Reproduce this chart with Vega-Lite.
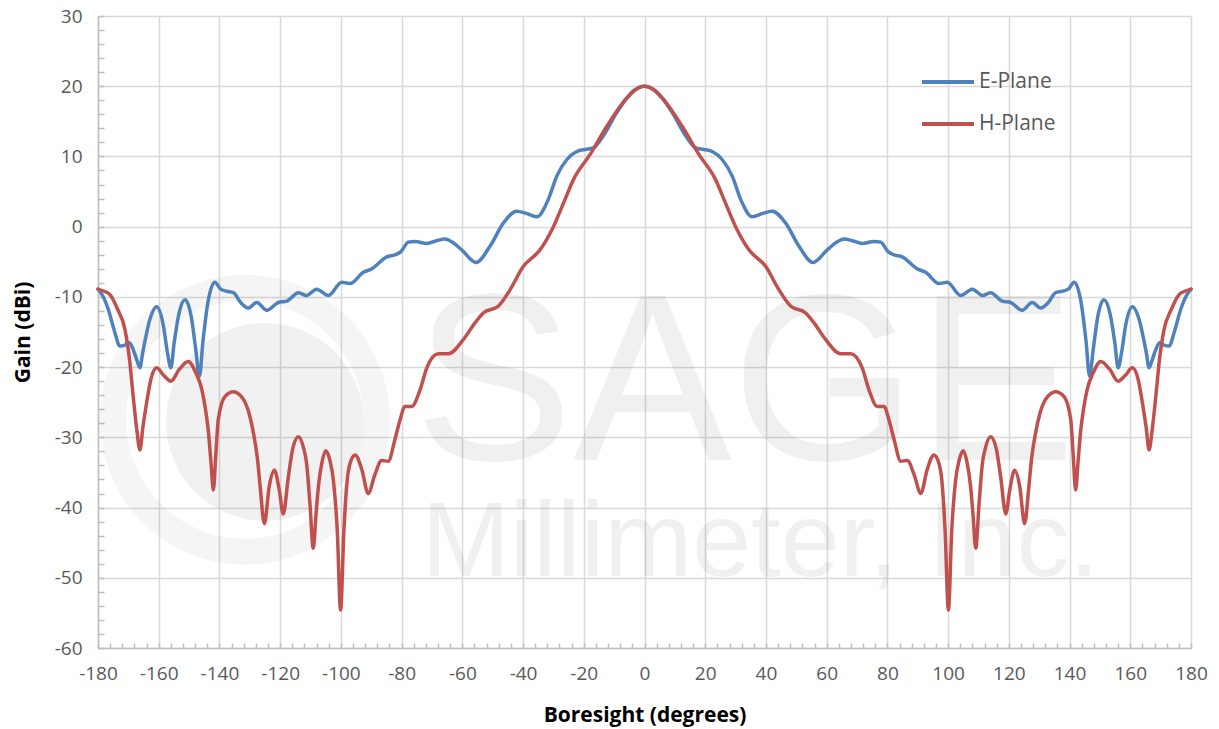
{
  "$schema": "https://vega.github.io/schema/vega-lite/v6.json",
  "width": 1093,
  "height": 632,
  "autosize": "none",
  "padding": {"left": 98, "top": 16, "right": 28, "bottom": 81},
  "background": "#ffffff",
  "config": {"view": {"stroke": null}, "font": "Open Sans"},
  "resolve": {"axis": {"x": "independent", "y": "independent"}},
  "layer": [
    {
      "data": {"values": [{"name": "ring"}]},
      "mark": {"type": "point", "shape": "circle", "filled": false, "stroke": "#000000", "strokeOpacity": 0.055, "strokeWidth": 26, "size": 69696},
      "encoding": {"x": {"datum": -131.6, "type": "quantitative", "axis": null}, "y": {"datum": -27.5, "type": "quantitative", "axis": null}}
    },
    {
      "data": {"values": [{"name": "disk"}]},
      "mark": {"type": "point", "shape": "circle", "filled": true, "fill": "#000000", "opacity": 0.055, "size": 39204},
      "encoding": {"x": {"datum": -125.0, "type": "quantitative", "axis": null}, "y": {"datum": -27.8, "type": "quantitative", "axis": null}}
    },
    {
      "data": {"values": [{"label": "SAGE"}]},
      "mark": {"type": "text", "font": "Liberation Sans", "fontSize": 238, "align": "center", "baseline": "alphabetic", "fill": "#000000", "opacity": 0.055},
      "encoding": {"x": {"datum": 33.1, "type": "quantitative", "axis": null}, "y": {"datum": -33.2, "type": "quantitative", "axis": null}, "text": {"field": "label"}}
    },
    {
      "data": {"values": [{"label": "Millimeter, Inc."}]},
      "mark": {"type": "text", "font": "Liberation Sans", "fontSize": 106, "align": "center", "baseline": "alphabetic", "fill": "#000000", "opacity": 0.055},
      "encoding": {"x": {"datum": 38.1, "type": "quantitative", "axis": null}, "y": {"datum": -49.7, "type": "quantitative", "axis": null}, "text": {"field": "label"}}
    },
    {
      "data": {"values": [
        {"angle": -180, "gain": -8.9, "plane": "E-Plane"},
        {"angle": -178.5, "gain": -9.8, "plane": "E-Plane"},
        {"angle": -176.6, "gain": -11.8, "plane": "E-Plane"},
        {"angle": -174.5, "gain": -15.0, "plane": "E-Plane"},
        {"angle": -172.8, "gain": -17.0, "plane": "E-Plane"},
        {"angle": -171.3, "gain": -16.9, "plane": "E-Plane"},
        {"angle": -169.8, "gain": -16.5, "plane": "E-Plane"},
        {"angle": -168.5, "gain": -17.4, "plane": "E-Plane"},
        {"angle": -167.2, "gain": -19.0, "plane": "E-Plane"},
        {"angle": -166.2, "gain": -20.1, "plane": "E-Plane"},
        {"angle": -165.3, "gain": -18.0, "plane": "E-Plane"},
        {"angle": -164.3, "gain": -15.8, "plane": "E-Plane"},
        {"angle": -162.9, "gain": -13.2, "plane": "E-Plane"},
        {"angle": -160.7, "gain": -11.4, "plane": "E-Plane"},
        {"angle": -158.5, "gain": -14.0, "plane": "E-Plane"},
        {"angle": -157.1, "gain": -18.0, "plane": "E-Plane"},
        {"angle": -156.0, "gain": -20.1, "plane": "E-Plane"},
        {"angle": -154.9, "gain": -16.5, "plane": "E-Plane"},
        {"angle": -153.3, "gain": -12.3, "plane": "E-Plane"},
        {"angle": -151.3, "gain": -10.4, "plane": "E-Plane"},
        {"angle": -149.3, "gain": -12.8, "plane": "E-Plane"},
        {"angle": -147.8, "gain": -17.5, "plane": "E-Plane"},
        {"angle": -146.6, "gain": -21.3, "plane": "E-Plane"},
        {"angle": -145.4, "gain": -16.2, "plane": "E-Plane"},
        {"angle": -143.8, "gain": -10.8, "plane": "E-Plane"},
        {"angle": -141.5, "gain": -7.9, "plane": "E-Plane"},
        {"angle": -139.6, "gain": -8.9, "plane": "E-Plane"},
        {"angle": -137.6, "gain": -9.2, "plane": "E-Plane"},
        {"angle": -135.4, "gain": -9.4, "plane": "E-Plane"},
        {"angle": -133.0, "gain": -10.8, "plane": "E-Plane"},
        {"angle": -130.5, "gain": -11.6, "plane": "E-Plane"},
        {"angle": -127.7, "gain": -10.8, "plane": "E-Plane"},
        {"angle": -124.4, "gain": -11.9, "plane": "E-Plane"},
        {"angle": -120.6, "gain": -10.8, "plane": "E-Plane"},
        {"angle": -117.8, "gain": -10.6, "plane": "E-Plane"},
        {"angle": -114.0, "gain": -9.4, "plane": "E-Plane"},
        {"angle": -111.3, "gain": -9.8, "plane": "E-Plane"},
        {"angle": -108.0, "gain": -8.9, "plane": "E-Plane"},
        {"angle": -104.1, "gain": -9.8, "plane": "E-Plane"},
        {"angle": -99.7, "gain": -7.9, "plane": "E-Plane"},
        {"angle": -97.0, "gain": -8.1, "plane": "E-Plane"},
        {"angle": -92.6, "gain": -6.5, "plane": "E-Plane"},
        {"angle": -89.8, "gain": -6.0, "plane": "E-Plane"},
        {"angle": -84.9, "gain": -4.3, "plane": "E-Plane"},
        {"angle": -82.2, "gain": -4.0, "plane": "E-Plane"},
        {"angle": -80.3, "gain": -3.6, "plane": "E-Plane"},
        {"angle": -77.8, "gain": -2.2, "plane": "E-Plane"},
        {"angle": -75.5, "gain": -2.1, "plane": "E-Plane"},
        {"angle": -71.7, "gain": -2.4, "plane": "E-Plane"},
        {"angle": -68.5, "gain": -2.0, "plane": "E-Plane"},
        {"angle": -65.7, "gain": -1.75, "plane": "E-Plane"},
        {"angle": -63.0, "gain": -2.3, "plane": "E-Plane"},
        {"angle": -60.2, "gain": -3.3, "plane": "E-Plane"},
        {"angle": -55.5, "gain": -5.1, "plane": "E-Plane"},
        {"angle": -50.9, "gain": -2.8, "plane": "E-Plane"},
        {"angle": -46.5, "gain": 0.5, "plane": "E-Plane"},
        {"angle": -42.1, "gain": 2.2, "plane": "E-Plane"},
        {"angle": -39.0, "gain": 1.9, "plane": "E-Plane"},
        {"angle": -35.5, "gain": 1.4, "plane": "E-Plane"},
        {"angle": -31.7, "gain": 3.85, "plane": "E-Plane"},
        {"angle": -28.9, "gain": 7.2, "plane": "E-Plane"},
        {"angle": -25.5, "gain": 9.6, "plane": "E-Plane"},
        {"angle": -22.3, "gain": 10.7, "plane": "E-Plane"},
        {"angle": -19.5, "gain": 11.0, "plane": "E-Plane"},
        {"angle": -16.9, "gain": 11.2, "plane": "E-Plane"},
        {"angle": -13.6, "gain": 12.9, "plane": "E-Plane"},
        {"angle": -9.2, "gain": 16.2, "plane": "E-Plane"},
        {"angle": -6.0, "gain": 18.2, "plane": "E-Plane"},
        {"angle": -3.7, "gain": 19.3, "plane": "E-Plane"},
        {"angle": 0, "gain": 20.0, "plane": "E-Plane"},
        {"angle": 3.7, "gain": 19.3, "plane": "E-Plane"},
        {"angle": 6.0, "gain": 18.2, "plane": "E-Plane"},
        {"angle": 9.2, "gain": 16.2, "plane": "E-Plane"},
        {"angle": 13.6, "gain": 12.9, "plane": "E-Plane"},
        {"angle": 16.9, "gain": 11.2, "plane": "E-Plane"},
        {"angle": 19.5, "gain": 11.0, "plane": "E-Plane"},
        {"angle": 22.3, "gain": 10.7, "plane": "E-Plane"},
        {"angle": 25.5, "gain": 9.6, "plane": "E-Plane"},
        {"angle": 28.9, "gain": 7.2, "plane": "E-Plane"},
        {"angle": 31.7, "gain": 3.85, "plane": "E-Plane"},
        {"angle": 35.5, "gain": 1.4, "plane": "E-Plane"},
        {"angle": 39.0, "gain": 1.9, "plane": "E-Plane"},
        {"angle": 42.1, "gain": 2.2, "plane": "E-Plane"},
        {"angle": 46.5, "gain": 0.5, "plane": "E-Plane"},
        {"angle": 50.9, "gain": -2.8, "plane": "E-Plane"},
        {"angle": 55.5, "gain": -5.1, "plane": "E-Plane"},
        {"angle": 60.2, "gain": -3.3, "plane": "E-Plane"},
        {"angle": 63.0, "gain": -2.3, "plane": "E-Plane"},
        {"angle": 65.7, "gain": -1.75, "plane": "E-Plane"},
        {"angle": 68.5, "gain": -2.0, "plane": "E-Plane"},
        {"angle": 71.7, "gain": -2.4, "plane": "E-Plane"},
        {"angle": 75.5, "gain": -2.1, "plane": "E-Plane"},
        {"angle": 77.8, "gain": -2.2, "plane": "E-Plane"},
        {"angle": 80.3, "gain": -3.6, "plane": "E-Plane"},
        {"angle": 82.2, "gain": -4.0, "plane": "E-Plane"},
        {"angle": 84.9, "gain": -4.3, "plane": "E-Plane"},
        {"angle": 89.8, "gain": -6.0, "plane": "E-Plane"},
        {"angle": 92.6, "gain": -6.5, "plane": "E-Plane"},
        {"angle": 97.0, "gain": -8.1, "plane": "E-Plane"},
        {"angle": 99.7, "gain": -7.9, "plane": "E-Plane"},
        {"angle": 104.1, "gain": -9.8, "plane": "E-Plane"},
        {"angle": 108.0, "gain": -8.9, "plane": "E-Plane"},
        {"angle": 111.3, "gain": -9.8, "plane": "E-Plane"},
        {"angle": 114.0, "gain": -9.4, "plane": "E-Plane"},
        {"angle": 117.8, "gain": -10.6, "plane": "E-Plane"},
        {"angle": 120.6, "gain": -10.8, "plane": "E-Plane"},
        {"angle": 124.4, "gain": -11.9, "plane": "E-Plane"},
        {"angle": 127.7, "gain": -10.8, "plane": "E-Plane"},
        {"angle": 130.5, "gain": -11.6, "plane": "E-Plane"},
        {"angle": 133.0, "gain": -10.8, "plane": "E-Plane"},
        {"angle": 135.4, "gain": -9.4, "plane": "E-Plane"},
        {"angle": 137.6, "gain": -9.2, "plane": "E-Plane"},
        {"angle": 139.6, "gain": -8.9, "plane": "E-Plane"},
        {"angle": 141.5, "gain": -7.9, "plane": "E-Plane"},
        {"angle": 143.8, "gain": -10.8, "plane": "E-Plane"},
        {"angle": 145.4, "gain": -16.2, "plane": "E-Plane"},
        {"angle": 146.6, "gain": -21.3, "plane": "E-Plane"},
        {"angle": 147.8, "gain": -17.5, "plane": "E-Plane"},
        {"angle": 149.3, "gain": -12.8, "plane": "E-Plane"},
        {"angle": 151.3, "gain": -10.4, "plane": "E-Plane"},
        {"angle": 153.3, "gain": -12.3, "plane": "E-Plane"},
        {"angle": 154.9, "gain": -16.5, "plane": "E-Plane"},
        {"angle": 156.0, "gain": -20.1, "plane": "E-Plane"},
        {"angle": 157.1, "gain": -18.0, "plane": "E-Plane"},
        {"angle": 158.5, "gain": -14.0, "plane": "E-Plane"},
        {"angle": 160.7, "gain": -11.4, "plane": "E-Plane"},
        {"angle": 162.9, "gain": -13.2, "plane": "E-Plane"},
        {"angle": 164.3, "gain": -15.8, "plane": "E-Plane"},
        {"angle": 165.3, "gain": -18.0, "plane": "E-Plane"},
        {"angle": 166.2, "gain": -20.1, "plane": "E-Plane"},
        {"angle": 167.2, "gain": -19.0, "plane": "E-Plane"},
        {"angle": 168.5, "gain": -17.4, "plane": "E-Plane"},
        {"angle": 169.8, "gain": -16.5, "plane": "E-Plane"},
        {"angle": 171.3, "gain": -16.9, "plane": "E-Plane"},
        {"angle": 172.8, "gain": -17.0, "plane": "E-Plane"},
        {"angle": 174.5, "gain": -15.0, "plane": "E-Plane"},
        {"angle": 176.6, "gain": -11.8, "plane": "E-Plane"},
        {"angle": 178.5, "gain": -9.8, "plane": "E-Plane"},
        {"angle": 180, "gain": -8.9, "plane": "E-Plane"},
        {"angle": -180, "gain": -8.9, "plane": "H-Plane"},
        {"angle": -178, "gain": -9.2, "plane": "H-Plane"},
        {"angle": -176, "gain": -9.7, "plane": "H-Plane"},
        {"angle": -173.5, "gain": -11.8, "plane": "H-Plane"},
        {"angle": -171.1, "gain": -14.7, "plane": "H-Plane"},
        {"angle": -169.6, "gain": -19.0, "plane": "H-Plane"},
        {"angle": -168.4, "gain": -24.2, "plane": "H-Plane"},
        {"angle": -167.2, "gain": -29.0, "plane": "H-Plane"},
        {"angle": -166.2, "gain": -31.8, "plane": "H-Plane"},
        {"angle": -165.2, "gain": -28.5, "plane": "H-Plane"},
        {"angle": -164.0, "gain": -25.1, "plane": "H-Plane"},
        {"angle": -162.5, "gain": -21.6, "plane": "H-Plane"},
        {"angle": -160.7, "gain": -20.1, "plane": "H-Plane"},
        {"angle": -158.3, "gain": -21.2, "plane": "H-Plane"},
        {"angle": -156.0, "gain": -22.0, "plane": "H-Plane"},
        {"angle": -153.2, "gain": -20.3, "plane": "H-Plane"},
        {"angle": -150.3, "gain": -19.2, "plane": "H-Plane"},
        {"angle": -147.8, "gain": -20.8, "plane": "H-Plane"},
        {"angle": -145.8, "gain": -23.2, "plane": "H-Plane"},
        {"angle": -144.6, "gain": -26.0, "plane": "H-Plane"},
        {"angle": -143.7, "gain": -28.9, "plane": "H-Plane"},
        {"angle": -142.8, "gain": -33.5, "plane": "H-Plane"},
        {"angle": -142.0, "gain": -37.5, "plane": "H-Plane"},
        {"angle": -141.2, "gain": -32.5, "plane": "H-Plane"},
        {"angle": -140.4, "gain": -27.5, "plane": "H-Plane"},
        {"angle": -138.2, "gain": -24.2, "plane": "H-Plane"},
        {"angle": -135.4, "gain": -23.5, "plane": "H-Plane"},
        {"angle": -132.1, "gain": -24.6, "plane": "H-Plane"},
        {"angle": -130.3, "gain": -26.5, "plane": "H-Plane"},
        {"angle": -128.8, "gain": -29.4, "plane": "H-Plane"},
        {"angle": -127.5, "gain": -33.0, "plane": "H-Plane"},
        {"angle": -126.6, "gain": -37.0, "plane": "H-Plane"},
        {"angle": -125.2, "gain": -42.3, "plane": "H-Plane"},
        {"angle": -123.6, "gain": -37.0, "plane": "H-Plane"},
        {"angle": -121.9, "gain": -34.7, "plane": "H-Plane"},
        {"angle": -120.3, "gain": -37.5, "plane": "H-Plane"},
        {"angle": -119.0, "gain": -40.9, "plane": "H-Plane"},
        {"angle": -117.3, "gain": -35.6, "plane": "H-Plane"},
        {"angle": -115.8, "gain": -31.5, "plane": "H-Plane"},
        {"angle": -114.0, "gain": -29.9, "plane": "H-Plane"},
        {"angle": -112.3, "gain": -31.5, "plane": "H-Plane"},
        {"angle": -111.3, "gain": -33.7, "plane": "H-Plane"},
        {"angle": -110.2, "gain": -39.4, "plane": "H-Plane"},
        {"angle": -109.1, "gain": -45.8, "plane": "H-Plane"},
        {"angle": -108.2, "gain": -41.0, "plane": "H-Plane"},
        {"angle": -107.4, "gain": -37.0, "plane": "H-Plane"},
        {"angle": -106.2, "gain": -33.5, "plane": "H-Plane"},
        {"angle": -105.0, "gain": -31.9, "plane": "H-Plane"},
        {"angle": -103.6, "gain": -33.3, "plane": "H-Plane"},
        {"angle": -102.5, "gain": -36.0, "plane": "H-Plane"},
        {"angle": -101.2, "gain": -43.2, "plane": "H-Plane"},
        {"angle": -100.1, "gain": -54.6, "plane": "H-Plane"},
        {"angle": -99.0, "gain": -43.2, "plane": "H-Plane"},
        {"angle": -97.9, "gain": -36.0, "plane": "H-Plane"},
        {"angle": -96.6, "gain": -33.2, "plane": "H-Plane"},
        {"angle": -95.3, "gain": -32.5, "plane": "H-Plane"},
        {"angle": -93.1, "gain": -34.6, "plane": "H-Plane"},
        {"angle": -91.0, "gain": -38.0, "plane": "H-Plane"},
        {"angle": -88.8, "gain": -35.3, "plane": "H-Plane"},
        {"angle": -86.6, "gain": -33.3, "plane": "H-Plane"},
        {"angle": -84.4, "gain": -33.4, "plane": "H-Plane"},
        {"angle": -82.2, "gain": -30.3, "plane": "H-Plane"},
        {"angle": -80.5, "gain": -27.5, "plane": "H-Plane"},
        {"angle": -78.9, "gain": -25.6, "plane": "H-Plane"},
        {"angle": -76.7, "gain": -25.6, "plane": "H-Plane"},
        {"angle": -73.9, "gain": -23.2, "plane": "H-Plane"},
        {"angle": -71.7, "gain": -20.1, "plane": "H-Plane"},
        {"angle": -67.9, "gain": -18.1, "plane": "H-Plane"},
        {"angle": -64.6, "gain": -18.1, "plane": "H-Plane"},
        {"angle": -59.7, "gain": -16.1, "plane": "H-Plane"},
        {"angle": -56.0, "gain": -13.8, "plane": "H-Plane"},
        {"angle": -53.1, "gain": -12.3, "plane": "H-Plane"},
        {"angle": -48.1, "gain": -11.3, "plane": "H-Plane"},
        {"angle": -44.3, "gain": -9.0, "plane": "H-Plane"},
        {"angle": -39.9, "gain": -5.65, "plane": "H-Plane"},
        {"angle": -34.4, "gain": -3.3, "plane": "H-Plane"},
        {"angle": -30.0, "gain": 0.0, "plane": "H-Plane"},
        {"angle": -26.2, "gain": 3.85, "plane": "H-Plane"},
        {"angle": -23.4, "gain": 6.7, "plane": "H-Plane"},
        {"angle": -17.9, "gain": 10.3, "plane": "H-Plane"},
        {"angle": -12.4, "gain": 14.3, "plane": "H-Plane"},
        {"angle": -5.9, "gain": 18.3, "plane": "H-Plane"},
        {"angle": -3.0, "gain": 19.5, "plane": "H-Plane"},
        {"angle": 0, "gain": 20.0, "plane": "H-Plane"},
        {"angle": 3.0, "gain": 19.5, "plane": "H-Plane"},
        {"angle": 5.9, "gain": 18.3, "plane": "H-Plane"},
        {"angle": 12.4, "gain": 14.3, "plane": "H-Plane"},
        {"angle": 17.9, "gain": 10.3, "plane": "H-Plane"},
        {"angle": 23.4, "gain": 6.7, "plane": "H-Plane"},
        {"angle": 26.2, "gain": 3.85, "plane": "H-Plane"},
        {"angle": 30.0, "gain": 0.0, "plane": "H-Plane"},
        {"angle": 34.4, "gain": -3.3, "plane": "H-Plane"},
        {"angle": 39.9, "gain": -5.65, "plane": "H-Plane"},
        {"angle": 44.3, "gain": -9.0, "plane": "H-Plane"},
        {"angle": 48.1, "gain": -11.3, "plane": "H-Plane"},
        {"angle": 53.1, "gain": -12.3, "plane": "H-Plane"},
        {"angle": 56.0, "gain": -13.8, "plane": "H-Plane"},
        {"angle": 59.7, "gain": -16.1, "plane": "H-Plane"},
        {"angle": 64.6, "gain": -18.1, "plane": "H-Plane"},
        {"angle": 67.9, "gain": -18.1, "plane": "H-Plane"},
        {"angle": 71.7, "gain": -20.1, "plane": "H-Plane"},
        {"angle": 73.9, "gain": -23.2, "plane": "H-Plane"},
        {"angle": 76.7, "gain": -25.6, "plane": "H-Plane"},
        {"angle": 78.9, "gain": -25.6, "plane": "H-Plane"},
        {"angle": 80.5, "gain": -27.5, "plane": "H-Plane"},
        {"angle": 82.2, "gain": -30.3, "plane": "H-Plane"},
        {"angle": 84.4, "gain": -33.4, "plane": "H-Plane"},
        {"angle": 86.6, "gain": -33.3, "plane": "H-Plane"},
        {"angle": 88.8, "gain": -35.3, "plane": "H-Plane"},
        {"angle": 91.0, "gain": -38.0, "plane": "H-Plane"},
        {"angle": 93.1, "gain": -34.6, "plane": "H-Plane"},
        {"angle": 95.3, "gain": -32.5, "plane": "H-Plane"},
        {"angle": 96.6, "gain": -33.2, "plane": "H-Plane"},
        {"angle": 97.9, "gain": -36.0, "plane": "H-Plane"},
        {"angle": 99.0, "gain": -43.2, "plane": "H-Plane"},
        {"angle": 100.1, "gain": -54.6, "plane": "H-Plane"},
        {"angle": 101.2, "gain": -43.2, "plane": "H-Plane"},
        {"angle": 102.5, "gain": -36.0, "plane": "H-Plane"},
        {"angle": 103.6, "gain": -33.3, "plane": "H-Plane"},
        {"angle": 105.0, "gain": -31.9, "plane": "H-Plane"},
        {"angle": 106.2, "gain": -33.5, "plane": "H-Plane"},
        {"angle": 107.4, "gain": -37.0, "plane": "H-Plane"},
        {"angle": 108.2, "gain": -41.0, "plane": "H-Plane"},
        {"angle": 109.1, "gain": -45.8, "plane": "H-Plane"},
        {"angle": 110.2, "gain": -39.4, "plane": "H-Plane"},
        {"angle": 111.3, "gain": -33.7, "plane": "H-Plane"},
        {"angle": 112.3, "gain": -31.5, "plane": "H-Plane"},
        {"angle": 114.0, "gain": -29.9, "plane": "H-Plane"},
        {"angle": 115.8, "gain": -31.5, "plane": "H-Plane"},
        {"angle": 117.3, "gain": -35.6, "plane": "H-Plane"},
        {"angle": 119.0, "gain": -40.9, "plane": "H-Plane"},
        {"angle": 120.3, "gain": -37.5, "plane": "H-Plane"},
        {"angle": 121.9, "gain": -34.7, "plane": "H-Plane"},
        {"angle": 123.6, "gain": -37.0, "plane": "H-Plane"},
        {"angle": 125.2, "gain": -42.3, "plane": "H-Plane"},
        {"angle": 126.6, "gain": -37.0, "plane": "H-Plane"},
        {"angle": 127.5, "gain": -33.0, "plane": "H-Plane"},
        {"angle": 128.8, "gain": -29.4, "plane": "H-Plane"},
        {"angle": 130.3, "gain": -26.5, "plane": "H-Plane"},
        {"angle": 132.1, "gain": -24.6, "plane": "H-Plane"},
        {"angle": 135.4, "gain": -23.5, "plane": "H-Plane"},
        {"angle": 138.2, "gain": -24.2, "plane": "H-Plane"},
        {"angle": 140.4, "gain": -27.5, "plane": "H-Plane"},
        {"angle": 141.2, "gain": -32.5, "plane": "H-Plane"},
        {"angle": 142.0, "gain": -37.5, "plane": "H-Plane"},
        {"angle": 142.8, "gain": -33.5, "plane": "H-Plane"},
        {"angle": 143.7, "gain": -28.9, "plane": "H-Plane"},
        {"angle": 144.6, "gain": -26.0, "plane": "H-Plane"},
        {"angle": 145.8, "gain": -23.2, "plane": "H-Plane"},
        {"angle": 147.8, "gain": -20.8, "plane": "H-Plane"},
        {"angle": 150.3, "gain": -19.2, "plane": "H-Plane"},
        {"angle": 153.2, "gain": -20.3, "plane": "H-Plane"},
        {"angle": 156.0, "gain": -22.0, "plane": "H-Plane"},
        {"angle": 158.3, "gain": -21.2, "plane": "H-Plane"},
        {"angle": 160.7, "gain": -20.1, "plane": "H-Plane"},
        {"angle": 162.5, "gain": -21.6, "plane": "H-Plane"},
        {"angle": 164.0, "gain": -25.1, "plane": "H-Plane"},
        {"angle": 165.2, "gain": -28.5, "plane": "H-Plane"},
        {"angle": 166.2, "gain": -31.8, "plane": "H-Plane"},
        {"angle": 167.2, "gain": -29.0, "plane": "H-Plane"},
        {"angle": 168.4, "gain": -24.2, "plane": "H-Plane"},
        {"angle": 169.6, "gain": -19.0, "plane": "H-Plane"},
        {"angle": 171.1, "gain": -14.7, "plane": "H-Plane"},
        {"angle": 173.5, "gain": -11.8, "plane": "H-Plane"},
        {"angle": 176, "gain": -9.7, "plane": "H-Plane"},
        {"angle": 178, "gain": -9.2, "plane": "H-Plane"},
        {"angle": 180, "gain": -8.9, "plane": "H-Plane"}
      ]},
      "mark": {"type": "line", "interpolate": "monotone", "strokeWidth": 3.5, "strokeCap": "round", "strokeJoin": "round"},
      "encoding": {
        "x": {
          "field": "angle", "type": "quantitative", "title": "Boresight (degrees)",
          "scale": {"domain": [-180, 180], "nice": false, "zero": false},
          "axis": {
            "orient": "bottom",
            "title": "Boresight (degrees)",
            "values": [-180,-176,-172,-168,-164,-160,-156,-152,-148,-144,-140,-136,-132,-128,-124,-120,-116,-112,-108,-104,-100,-96,-92,-88,-84,-80,-76,-72,-68,-64,-60,-56,-52,-48,-44,-40,-36,-32,-28,-24,-20,-16,-12,-8,-4,0,4,8,12,16,20,24,28,32,36,40,44,48,52,56,60,64,68,72,76,80,84,88,92,96,100,104,108,112,116,120,124,128,132,136,140,144,148,152,156,160,164,168,172,176,180],
            "labelExpr": "datum.value % 20 === 0 ? toString(datum.value) : ''",
            "labelOverlap": false, "labelFlush": false, "labelBound": false,
            "labelFontSize": 19, "labelColor": "#595959", "labelPadding": 21,
            "grid": true, "gridColor": "#d9d9d9", "gridWidth": 1.5,
            "gridOpacity": {"condition": {"test": "datum.value % 20 === 0", "value": 1}, "value": 0},
            "domainColor": "#bfbfbf", "domainWidth": 1.5,
            "tickColor": "#bfbfbf", "tickWidth": 1.5, "tickSize": -5,
            "titleFontSize": 21, "titleFontWeight": "bold", "titleColor": "#000000", "titlePadding": 21
          }
        },
        "y": {
          "field": "gain", "type": "quantitative", "title": "Gain (dBi)",
          "scale": {"domain": [-60, 30], "nice": false, "zero": false},
          "axis": {
            "orient": "left",
            "title": "Gain (dBi)",
            "values": [-60,-58,-56,-54,-52,-50,-48,-46,-44,-42,-40,-38,-36,-34,-32,-30,-28,-26,-24,-22,-20,-18,-16,-14,-12,-10,-8,-6,-4,-2,0,2,4,6,8,10,12,14,16,18,20,22,24,26,28,30],
            "labelExpr": "datum.value % 10 === 0 ? toString(datum.value) : ''",
            "labelOverlap": false, "labelFlush": false, "labelBound": false,
            "labelFontSize": 19, "labelColor": "#595959", "labelPadding": 22,
            "grid": true, "gridColor": "#d9d9d9", "gridWidth": 1.5,
            "gridOpacity": {"condition": {"test": "datum.value % 10 === 0", "value": 1}, "value": 0},
            "domainColor": "#bfbfbf", "domainWidth": 1.5,
            "tickColor": "#bfbfbf", "tickWidth": 1.5, "tickSize": -6,
            "titleFontSize": 21, "titleFontWeight": "bold", "titleColor": "#000000", "titlePadding": 21
          }
        },
        "color": {
          "field": "plane", "type": "nominal",
          "scale": {"domain": ["E-Plane", "H-Plane"], "range": ["#4f81bd", "#c0504d"]},
          "legend": {
            "orient": "none", "legendX": 822, "legendY": 38, "title": null,
            "symbolType": "stroke", "symbolSize": 2700, "symbolStrokeWidth": 4,
            "labelFontSize": 21, "labelColor": "#595959", "labelOffset": 3, "rowPadding": 4, "padding": 0
          }
        }
      }
    }
  ]
}
